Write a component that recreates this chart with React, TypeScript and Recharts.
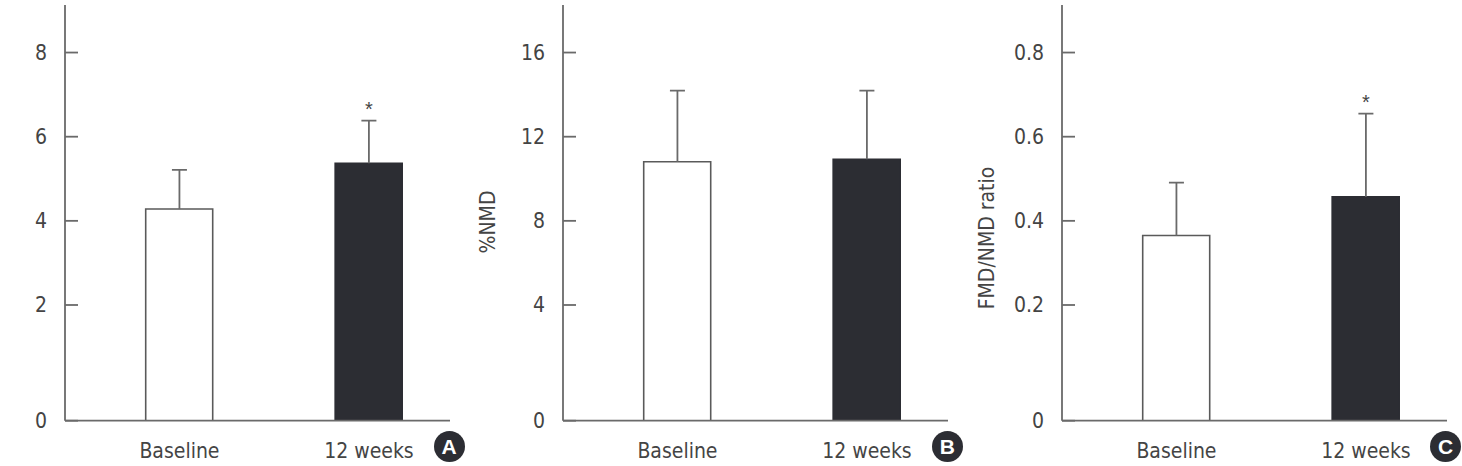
import React from 'react';
import { ComposedChart, Bar, Cell, XAxis, YAxis, Scatter, ErrorBar } from 'recharts';

// ---- data ----
const categories = ['Baseline', '12 weeks'];
const categoryPositions = [1, 2];

const fmdMeans = [4.28, 5.37];
const fmdErrors = [0.93, 1.01];
const fmdSignificant = [false, true];
const fmdTicks = [2, 4, 6, 8];

const nmdMeans = [10.81, 10.93];
const nmdErrors = [3.38, 3.26];
const nmdSignificant = [false, false];
const nmdTicks = [4, 8, 12, 16];

const ratioMeans = [0.365, 0.457];
const ratioErrors = [0.126, 0.198];
const ratioSignificant = [false, true];
const ratioTicks = [0.2, 0.4, 0.6, 0.8];

// broken axis: the lowest point of each axis is labelled "0"
const fmdDomain = [-0.75, 9.13];
const nmdDomain = [-1.5, 18.26];
const ratioDomain = [-0.075, 0.913];
const xDomain = [0.396, 2.428];

const FONT = "'Liberation Sans Narrow', 'Arial Narrow', 'DejaVu Sans Condensed', sans-serif";
const AXIS = '#6a6a6a';
const TEXT = '#444';
const DARK = '#2c2d33';
const FS = 21;

type PanelProps = {
  means: number[];
  errors: number[];
  significant: boolean[];
  ticks: number[];
  domain: number[];
  yLabel: string;
  labelY: number;
  badge: string;
  left: number;
};

const Panel = ({ means, errors, significant, ticks, domain, yLabel, labelY, badge, left }: PanelProps) => {
  const rows = categories.map((c, i) => ({
    x: categoryPositions[i],
    name: c,
    mean: means[i],
    range: [domain[0], means[i]],
    err: [0, errors[i]],
    top: means[i] + errors[i],
  }));
  const starRows = rows.filter((_, i) => significant[i]);
  const yTicks = [domain[0], ...ticks];
  const fmt = (v: number) => (v <= domain[0] + 1e-9 ? '0' : String(v));

  return (
    <div style={{ position: 'absolute', left, top: 0 }}>
      <ComposedChart
        width={520}
        height={466}
        data={rows}
        margin={{ top: 5, right: 35, bottom: 5.3, left: 40 }}
        style={{ overflow: 'visible' }}
      >
        <XAxis
          dataKey="x"
          type="number"
          domain={xDomain}
          allowDataOverflow
          ticks={categoryPositions}
          interval={0}
          tickFormatter={(v: number) => categories[categoryPositions.indexOf(v)] ?? ''}
          height={40}
          tickLine={false}
          tickSize={0}
          tickMargin={22}
          axisLine={{ stroke: AXIS, strokeWidth: 1.8 }}
          tick={{ fill: TEXT, fontSize: FS, fontFamily: FONT }}
        />
        <YAxis
          type="number"
          domain={domain}
          allowDataOverflow
          ticks={yTicks}
          interval={0}
          tickFormatter={fmt}
          width={60}
          tickSize={-13}
          tickMargin={31}
          axisLine={{ stroke: AXIS, strokeWidth: 1.8 }}
          tickLine={{ stroke: AXIS, strokeWidth: 1.8 }}
          tick={{ fill: TEXT, fontSize: FS, fontFamily: FONT }}
          label={{
            content: (p: any) => {
              const vb = p.viewBox || {};
              const cx = (vb.x ?? 0) + (vb.width ?? 0) - 75;
              const cy = labelY;
              return (
                <text
                  x={cx}
                  y={cy}
                  transform={`rotate(-90 ${cx} ${cy})`}
                  textAnchor="middle"
                  dominantBaseline="central"
                  fill={TEXT}
                  fontSize={FS}
                  fontFamily={FONT}
                >
                  {yLabel}
                </text>
              );
            },
          }}
        />
        <Bar dataKey="range" barSize={67} isAnimationActive={false}>
          {rows.map((r, i) => (
            <Cell
              key={r.name}
              fill={i === 0 ? '#ffffff' : DARK}
              stroke={i === 0 ? '#5a5a5a' : DARK}
              strokeWidth={1.6}
            />
          ))}
        </Bar>
        {/* vertical whisker of each error bar (caps drawn separately, upper only) */}
        <Scatter dataKey="mean" isAnimationActive={false} shape={() => <g />}>
          <ErrorBar dataKey="err" direction="y" width={0} stroke={AXIS} strokeWidth={1.8} isAnimationActive={false} />
        </Scatter>
        {/* upper caps */}
        <Scatter
          dataKey="top"
          isAnimationActive={false}
          shape={(p: any) => (
            <line x1={p.cx - 7.5} x2={p.cx + 7.5} y1={p.cy} y2={p.cy} stroke={AXIS} strokeWidth={1.8} />
          )}
        />
        {starRows.length > 0 && (
          <Scatter
            data={starRows}
            dataKey="top"
            isAnimationActive={false}
            shape={(p: any) => (
              <text x={p.cx} y={p.cy - 5} textAnchor="middle" fontSize={20} fill={TEXT} fontFamily="'Liberation Sans', Arial, sans-serif">
                *
              </text>
            )}
          />
        )}
      </ComposedChart>
      <div
        style={{
          position: 'absolute',
          left: 100 + 385 - 1 - 15.5,
          top: 446.5 - 15.5,
          width: 31,
          height: 31,
          borderRadius: '50%',
          background: DARK,
          color: '#fff',
          fontFamily: "'Liberation Sans', Arial, sans-serif",
          fontWeight: 'bold',
          fontSize: 21,
          lineHeight: '31px',
          textAlign: 'center',
        }}
      >
        {badge}
      </div>
    </div>
  );
};

export default function App() {
  return (
    <div
      style={{
        position: 'absolute',
        left: 0,
        top: 0,
        width: 1462,
        height: 466,
        overflow: 'hidden',
        background: '#ffffff',
      }}
    >
      <Panel means={fmdMeans} errors={fmdErrors} significant={fmdSignificant} ticks={fmdTicks} domain={fmdDomain} yLabel="%FMD" labelY={240} badge="A" left={-35} />
      <Panel means={nmdMeans} errors={nmdErrors} significant={nmdSignificant} ticks={nmdTicks} domain={nmdDomain} yLabel="%NMD" labelY={222} badge="B" left={463.3} />
      <Panel means={ratioMeans} errors={ratioErrors} significant={ratioSignificant} ticks={ratioTicks} domain={ratioDomain} yLabel="FMD/NMD ratio" labelY={238} badge="C" left={961.7} />
    </div>
  );
}
